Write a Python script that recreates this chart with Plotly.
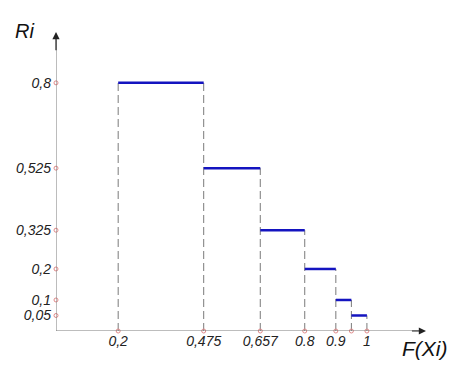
import plotly.graph_objects as go

# Data
x_edges = [0.2, 0.475, 0.657, 0.8, 0.9, 0.95, 1.0]
r_values = [0.8, 0.525, 0.325, 0.2, 0.1, 0.05]
x_tick_labels = ["0,2", "0,475", "0,657", "0.8", "0.9", "", "1"]
y_tick_vals = [0.8, 0.525, 0.325, 0.2, 0.1, 0.05]
y_tick_labels = ["0,8", "0,525", "0,325", "0,2", "0,1", "0,05"]

FONT = "Liberation Sans, Arial, sans-serif"

fig = go.Figure()

# dashed vertical guides
vx, vy = [], []
for i, xe in enumerate(x_edges):
    left = r_values[i - 1] if i > 0 else 0
    right = r_values[i] if i < len(r_values) else 0
    h = max(left, right)
    vx += [xe, xe, None]
    vy += [0, h, None]
fig.add_trace(go.Scatter(x=vx, y=vy, mode="lines",
                         line=dict(color="#7a7a7a", width=1, dash="8px,4px"),
                         hoverinfo="skip", showlegend=False))

# step segments
sx, sy = [], []
for i, r in enumerate(r_values):
    sx += [x_edges[i], x_edges[i + 1], None]
    sy += [r, r, None]
fig.add_trace(go.Scatter(x=sx, y=sy, mode="lines",
                         line=dict(color="#1414c0", width=2.5),
                         showlegend=False))

# axis lines
fig.add_shape(type="line", x0=0, y0=0, x1=1.17, y1=0,
              line=dict(color="#7a7a7a", width=1))
fig.add_shape(type="line", x0=0, y0=0, x1=0, y1=0.94,
              line=dict(color="#7a7a7a", width=1))
# arrow heads
fig.add_annotation(x=1.19, y=0, ax=1.14, ay=0, xref="x", yref="y",
                   axref="x", ayref="y", showarrow=True, arrowhead=2,
                   arrowsize=1.2, arrowwidth=1.2, arrowcolor="#222", text="")
fig.add_annotation(x=0, y=0.964, ax=0, ay=0.9, xref="x", yref="y",
                   axref="x", ayref="y", showarrow=True, arrowhead=2,
                   arrowsize=1.2, arrowwidth=1.2, arrowcolor="#222", text="")

# tick marks (small pink circles)
fig.add_trace(go.Scatter(x=x_edges, y=[0] * len(x_edges), mode="markers",
                         marker=dict(symbol="circle-open", size=4, color="#e08a8a",
                                     line=dict(width=1)),
                         hoverinfo="skip", showlegend=False, cliponaxis=False))
fig.add_trace(go.Scatter(x=[0] * len(y_tick_vals), y=y_tick_vals, mode="markers",
                         marker=dict(symbol="circle-open", size=4, color="#e08a8a",
                                     line=dict(width=1)),
                         hoverinfo="skip", showlegend=False, cliponaxis=False))

# axis titles
fig.add_annotation(x=-0.084, y=1.003, xref="paper", yref="paper", text="Ri",
                   showarrow=False, xanchor="center", yanchor="middle",
                   font=dict(family=FONT, size=20, color="#111", style="italic"))
fig.add_annotation(x=0.997, y=-0.057, xref="paper", yref="paper", text="F(Xi)",
                   showarrow=False, xanchor="center", yanchor="middle",
                   font=dict(family=FONT, size=21, color="#111", style="italic"))

fig.update_layout(
    width=464, height=384,
    margin=dict(l=48, r=46, t=24, b=61, autoexpand=False),
    plot_bgcolor="white", paper_bgcolor="white",
    xaxis=dict(range=[0, 1.19], showgrid=False, zeroline=False, showline=False,
               tickmode="array", tickvals=x_edges, ticktext=x_tick_labels,
               ticks="", automargin=False,
               tickfont=dict(family=FONT, size=14, color="#222", style="italic")),
    yaxis=dict(range=[0, 0.964], showgrid=False, zeroline=False, showline=False,
               tickmode="array", tickvals=y_tick_vals, ticktext=y_tick_labels,
               ticks="", ticklabelstandoff=4, automargin=False,
               tickfont=dict(family=FONT, size=14, color="#222", style="italic")),
)

fig.write_html("out.html")
